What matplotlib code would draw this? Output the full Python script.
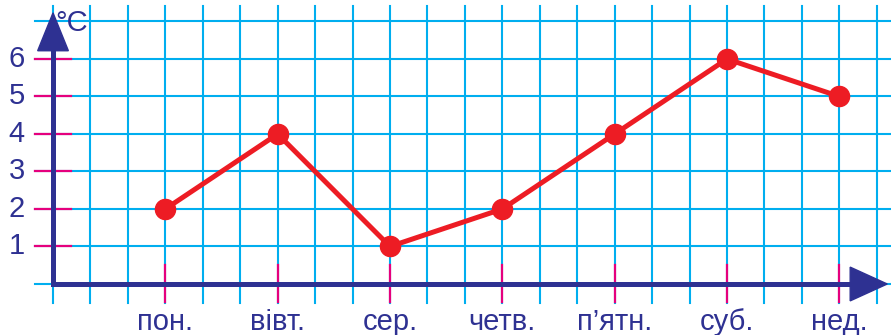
import matplotlib
matplotlib.use("Agg")
import matplotlib.pyplot as plt
from matplotlib.patches import Polygon

# температура по днях тижня
days = ["пон.", "вівт.", "сер.", "четв.", "п’ятн.", "суб.", "нед."]
temps = [2, 4, 1, 2, 4, 6, 5]
y_labels = [1, 2, 3, 4, 5, 6]

navy = "#2e3192"
cyan = "#00aeef"
pink = "#e5007d"
red = "#ed1c24"

plt.rcParams["font.family"] = ["Liberation Sans", "DejaVu Sans"]

fig = plt.figure(figsize=(8.91, 3.35), dpi=100)
ax = fig.add_axes([0, 0, 1, 1])
ax.set_xlim(-1.416, 22.38)
ax.set_ylim(-1.36, 7.573)
ax.axis("off")

# дні стоять через три клітинки
xs = [3 * (i + 1) for i in range(len(days))]

# сітка зошита
for gx in range(0, 23):
    ax.plot([gx, gx], [-0.5, 7.4], color=cyan, lw=1.5, zorder=1)
for gy in range(0, 8):
    ax.plot([-0.48, 23], [gy, gy], color=cyan, lw=1.5, zorder=1)

# рисочки на осях
for v in y_labels:
    ax.plot([-0.48, 0.48], [v, v], color=pink, lw=1.6, zorder=2)
    ax.text(-0.75, v, str(v), ha="right", va="center", fontsize=21, color=navy)
for x, d in zip(xs, days):
    ax.plot([x, x], [-0.48, 0.5], color=pink, lw=1.6, zorder=2)
    ax.text(x, -1.02, d, ha="center", va="center", fontsize=21, color=navy)

# осі зі стрілками
ax.plot([0, 0], [0, 6.4], color=navy, lw=3.6, solid_capstyle="projecting", zorder=3)
ax.plot([0, 21.4], [0, 0], color=navy, lw=3.6, solid_capstyle="projecting", zorder=3)
ax.add_patch(Polygon([[-0.41, 6.22], [0.41, 6.22], [0, 7.23]], closed=True,
                     color=navy, zorder=3))
ax.add_patch(Polygon([[21.29, 0.45], [21.29, -0.45], [22.28, 0]], closed=True,
                     color=navy, zorder=3))
ax.text(0.05, 6.95, "°C", ha="left", va="center", fontsize=21, color=navy)

# графік температури
ax.plot(xs, temps, color=red, lw=3.6, marker="o", markersize=14.5,
        solid_capstyle="round", zorder=4)

fig.savefig("out.png", dpi=100)
